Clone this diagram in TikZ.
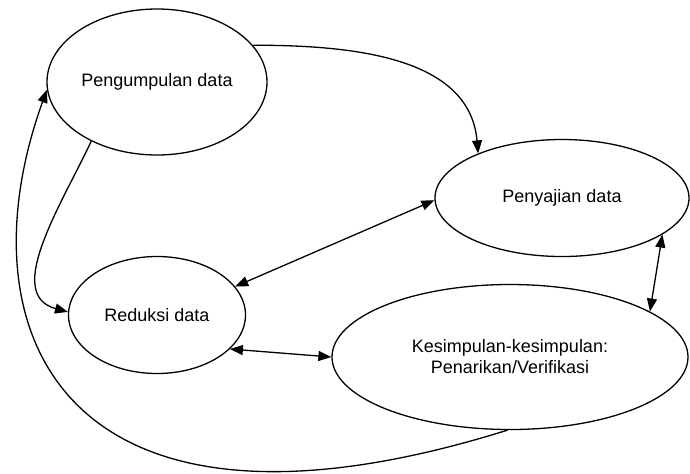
\documentclass[tikz,border=0pt]{standalone}
\usepackage{fontspec}
\setmainfont{Liberation Sans}
\usetikzlibrary{shapes.geometric,arrows.meta}

\begin{document}
\begin{tikzpicture}[x=0.5pt,y=-0.5pt,line width=0.65pt,
    >={Triangle[length=6.5pt,width=5pt]}]
  \useasboundingbox (0,0) rectangle (690,473);
  \begin{scope}[every node/.style={ellipse,draw,inner sep=0pt,
      font=\fontsize{9}{10.5}\selectfont,align=center}]
    \node[minimum width=110pt,minimum height=73pt] (kumpul) at (157,82) {Pengumpulan data};
    \node[minimum width=127pt,minimum height=58.5pt] (saji) at (562,198) {Penyajian data};
    \node[minimum width=88.5pt,minimum height=58.5pt] (reduksi) at (157,315) {Reduksi data};
    \node[minimum width=178pt,minimum height=72.5pt] (simpul) at (510,357) {Kesimpulan-kesimpulan:\\Penarikan/Verifikasi};
  \end{scope}
  \begin{scope}[every edge/.style={draw=black}]
    \path (kumpul.21) edge[->,out=0,in=95] (saji.152);
    \path (kumpul.222) edge[->,out=245,in=165] (reduksi.178);
    \path (reduksi.20) edge[<->] (saji.181);
    \path (reduksi.335) edge[<->] (simpul.180);
    \path (saji.340) edge[<->] (simpul.18);
    \draw[->] (simpul.268) .. controls (60,570) and (-40,330) .. (kumpul.184);
  \end{scope}
\end{tikzpicture}
\end{document}
